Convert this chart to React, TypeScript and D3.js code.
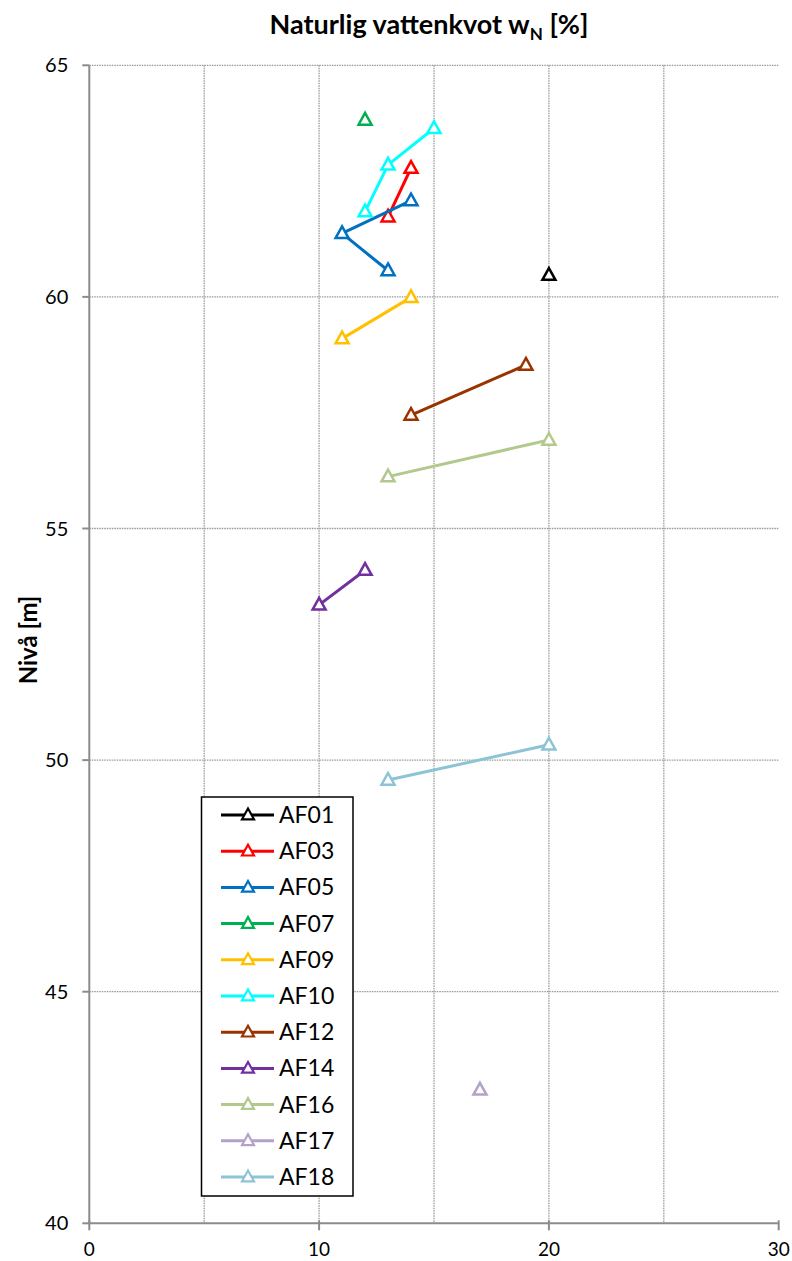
import React from "react";
import * as d3 from "d3";

const seriesNames = ["AF01", "AF03", "AF05", "AF07", "AF09", "AF10", "AF12", "AF14", "AF16", "AF17", "AF18"];
const seriesColors = ["#000000", "#FF0000", "#0070C0", "#00B050", "#FFC000", "#00FFFF", "#993300", "#7030A0", "#B2C98D", "#B3A2C7", "#8CC4D6"];
const seriesX: number[][] = [
  [20],
  [14, 13],
  [14, 11, 13],
  [12],
  [14, 11],
  [15, 13, 12],
  [19, 14],
  [12, 10],
  [20, 13],
  [17],
  [20, 13],
];
const seriesY: number[][] = [
  [60.47],
  [62.78, 61.73],
  [62.08, 61.37, 60.57],
  [63.82],
  [59.99, 59.1],
  [63.64, 62.85, 61.84],
  [58.53, 57.45],
  [54.1, 53.35],
  [56.91, 56.12],
  [42.88],
  [50.33, 49.57],
];
const xTicks = [0, 10, 20, 30];
const xGrid = [5, 10, 15, 20, 25];
const yTicks = [40, 45, 50, 55, 60, 65];
const yGrid = [45, 50, 55, 60, 65];

const W = 792;
const H = 1261;
const left = 89.3;
const right = 778.7;
const top = 65.3;
const bottom = 1223.3;
const FONT = "Lato, 'Open Sans', sans-serif";

function tri(cx: number, cy: number, s: number) {
  const h = s * 0.9;
  return `M${cx},${cy - h * 0.6}L${cx + s / 2},${cy + h * 0.4}L${cx - s / 2},${cy + h * 0.4}Z`;
}

export default function App() {
  const x = d3.scaleLinear().domain([0, 30]).range([left, right]);
  const y = d3.scaleLinear().domain([40, 65]).range([bottom, top]);
  const line = d3.line<[number, number]>().x((d) => x(d[0])).y((d) => y(d[1]));

  const legX = 201.5;
  const legY = 797;
  const legW = 151.5;
  const legH = 399;
  const legStep = 36.2;
  const legFirst = 815;

  return (
    <svg width={W} height={H} style={{ position: "absolute", left: 0, top: 0, background: "#fff" }} fontFamily={FONT}>
      <rect x={0} y={0} width={W} height={H} fill="#fff" />
      {/* title */}
      <text x={429} y={34} textAnchor="middle" fontSize={27} fontWeight="bold" fill="#000">
        Naturlig vattenkvot w
        <tspan fontSize={17} dy={6}>N</tspan>
        <tspan dy={-6}> [%]</tspan>
      </text>
      {/* grid */}
      {xGrid.map((v) => (
        <line key={"gx" + v} x1={x(v)} x2={x(v)} y1={top} y2={bottom} stroke="#999" strokeWidth={1.3} strokeDasharray="1.5,1" />
      ))}
      {yGrid.map((v) => (
        <line key={"gy" + v} x1={left} x2={right} y1={y(v)} y2={y(v)} stroke="#999" strokeWidth={1.3} strokeDasharray="1.5,1" />
      ))}
      {/* axes */}
      <line x1={left} x2={left} y1={top} y2={bottom} stroke="#8c8c8c" strokeWidth={2} />
      <line x1={left} x2={right} y1={bottom} y2={bottom} stroke="#8c8c8c" strokeWidth={2} />
      {yTicks.map((v) => (
        <g key={"yt" + v}>
          <line x1={left - 7} x2={left} y1={y(v)} y2={y(v)} stroke="#8c8c8c" strokeWidth={2} />
          <text x={left - 21} y={y(v)} dy="0.35em" textAnchor="end" fontSize={20} fill="#000">{v}</text>
        </g>
      ))}
      {xTicks.map((v) => (
        <g key={"xt" + v}>
          <line x1={x(v)} x2={x(v)} y1={bottom - 3} y2={bottom + 7} stroke="#8c8c8c" strokeWidth={2} />
          <text x={x(v)} y={1256} textAnchor="middle" fontSize={19} fill="#000">{v}</text>
        </g>
      ))}
      {/* y label */}
      <text transform={`translate(37,640) rotate(-90)`} textAnchor="middle" fontSize={24} fontWeight="bold" fill="#000">
        Nivå [m]
      </text>
      {/* series */}
      {seriesNames.map((name, i) => {
        const pts: [number, number][] = seriesX[i].map((xv, j) => [xv, seriesY[i][j]]);
        return (
          <g key={name}>
            {pts.length > 1 && <path d={line(pts) || ""} fill="none" stroke={seriesColors[i]} strokeWidth={3} />}
            {pts.map((p, j) => (
              <path key={j} d={tri(x(p[0]), y(p[1]), 13)} fill="#fff" stroke={seriesColors[i]} strokeWidth={2.5} />
            ))}
          </g>
        );
      })}
      {/* legend */}
      <rect x={legX} y={legY} width={legW} height={legH} fill="#fff" stroke="#000" strokeWidth={1.5} />
      {seriesNames.map((name, i) => {
        const cy = legFirst + i * legStep;
        return (
          <g key={"lg" + name}>
            <line x1={221} x2={274} y1={cy} y2={cy} stroke={seriesColors[i]} strokeWidth={3} />
            <path d={tri(248, cy, 12)} fill="#fff" stroke={seriesColors[i]} strokeWidth={2.2} />
            <text x={279} y={cy} dy="0.35em" fontSize={23} fill="#000">{name}</text>
          </g>
        );
      })}
    </svg>
  );
}
